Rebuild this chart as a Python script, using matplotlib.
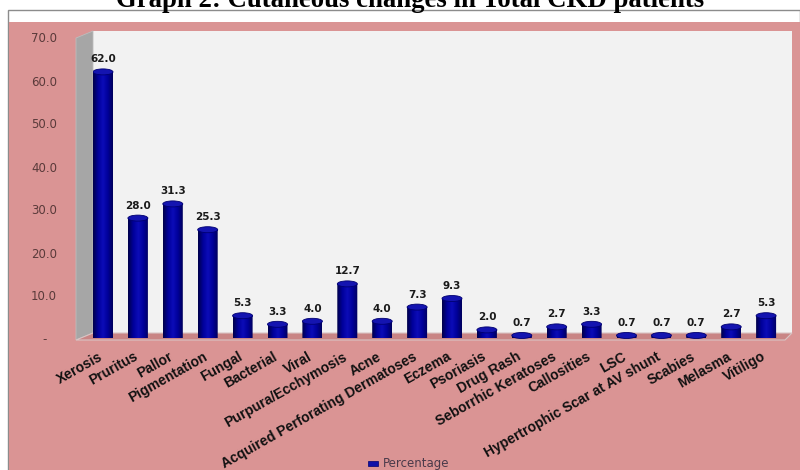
import numpy as np
import matplotlib
matplotlib.use('Agg')
import matplotlib.pyplot as plt
from matplotlib.patches import Polygon, Ellipse, PathPatch
from matplotlib.path import Path
from matplotlib.colors import LinearSegmentedColormap
from matplotlib.transforms import offset_copy

categories = ['Xerosis', 'Pruritus', 'Pallor', 'Pigmentation', 'Fungal', 'Bacterial',
              'Viral', 'Purpura/Ecchymosis', 'Acne', 'Acquired Perforating Dermatoses',
              'Eczema', 'Psoriasis', 'Drug Rash', 'Seborrhic Keratoses', 'Callosities',
              'LSC', 'Hypertrophic Scar at AV shunt', 'Scabies', 'Melasma', 'Vitiligo']
values = [62.0, 28.0, 31.3, 25.3, 5.3, 3.3, 4.0, 12.7, 4.0, 7.3,
          9.3, 2.0, 0.7, 2.7, 3.3, 0.7, 0.7, 0.7, 2.7, 5.3]
yticks = [0, 10, 20, 30, 40, 50, 60, 70]

W, H = 800, 470
PINK = '#da9494'

fig = plt.figure(figsize=(W / 100, H / 100), dpi=100)
fig.patch.set_facecolor('white')


# helper: pixel coords (from top-left) -> figure fraction
def px(x, y):
    return (x / W, 1 - y / H)


def fig_poly(pts, **kw):
    p = Polygon([px(x, y) for x, y in pts], closed=True, transform=fig.transFigure,
                zorder=-1, **kw)
    fig.patches.append(p)
    return p


# outer box, white strip and pink chart area
fig_poly([(8, 10), (800, 10), (800, 470), (8, 470)], facecolor='white', edgecolor='#8c8c8c', lw=1)
fig_poly([(9, 22), (800, 22), (800, 470), (9, 470)], facecolor=PINK, edgecolor='none')
# back wall, left wall, floor
fig_poly([(93, 31), (792, 31), (792, 333), (93, 333)], facecolor='#f2f2f2', edgecolor='none')
fig_poly([(76, 38), (93, 31), (93, 333), (76, 340)], facecolor='#a6a6a6', edgecolor='#bdbdbd', lw=0.6)
fig_poly([(76, 340), (93, 333), (792, 333), (785, 340)], facecolor='#c98585', edgecolor='#d9c4c4', lw=0.8)

# main axes, zero at y=338.5px, 4.3 px per unit, 34.9 px between bars
ax = fig.add_axes([93 / W, (H - 338.5) / H, (792 - 93) / W, (338.5 - 31) / H])
ax.patch.set_visible(False)
for s in ax.spines.values():
    s.set_visible(False)
ytop = (338.5 - 31) / 4.3
xl, xr = -(103 - 93) / 34.9, (792 - 103) / 34.9

bw = 20 / 34.9
eh = 6 / 4.3
cmap = LinearSegmentedColormap.from_list('cyl', ['#00004a', '#00009a', '#0c0cb8', '#000099', '#00005c'])
grad = np.linspace(0, 1, 64).reshape(1, -1)
t = np.linspace(np.pi, 2 * np.pi, 30)

for i, v in enumerate(values):
    x0, x1 = i - bw / 2, i + bw / 2
    arc = np.column_stack([i + bw / 2 * np.cos(t), eh / 2 * np.sin(t)])
    verts = [(x0, v)] + [tuple(p) for p in arc] + [(x1, v), (x0, v)]
    clip = PathPatch(Path(verts, closed=True), transform=ax.transData, facecolor='none', edgecolor='none')
    ax.add_patch(clip)
    im = ax.imshow(grad, cmap=cmap, aspect='auto', extent=[x0, x1, -eh / 2, v], zorder=2)
    im.set_clip_path(clip)
    ax.add_patch(Ellipse((i, v), bw, eh, facecolor='#1414b0', edgecolor='#000070', lw=0.6, zorder=3))
    ax.annotate(f'{v:.1f}', (i, v), xytext=(0, 9), textcoords='offset points',
                ha='center', va='center', fontsize=7.5, fontweight='bold', color='#1a1a1a')
    ax.text(i, 0, categories[i], rotation=29.4, rotation_mode='anchor', ha='right', va='top',
            fontsize=10, fontweight='bold', family='Liberation Sans', color='#111111',
            transform=offset_copy(ax.transData, fig=fig, x=-5, y=-11, units='dots'))

ax.set_xlim(xl, xr)
ax.set_ylim(0, ytop)
ax.set_xticks([])
ax.set_yticks([])

# y tick labels
for v in yticks:
    lab = '-' if v == 0 else f'{v:.1f}'
    ha = 'center' if v == 0 else 'right'
    xx = 45 if v == 0 else 57
    fig.text(xx / W, 1 - (340 - v * 4.3) / H, lab, ha=ha, va='center', fontsize=8.5, color='#5a3a3a')

# legend
fig_poly([(368, 461), (378, 461), (378, 466), (368, 466)], facecolor='#1010a8', edgecolor='#000070', lw=0.5)
fig.text(383 / W, 1 - 463.5 / H, 'Percentage', ha='left', va='center', fontsize=8.5, color='#4a3a4a')

# title (cut off at the top like the source)
fig.text(410 / W, 1 - 7 / H, 'Graph 2: Cutaneous changes in Total CKD patients', ha='center', va='baseline',
         fontsize=19.3, fontweight='bold', family='Liberation Serif', color='black')

fig.savefig('out.png', dpi=100)
